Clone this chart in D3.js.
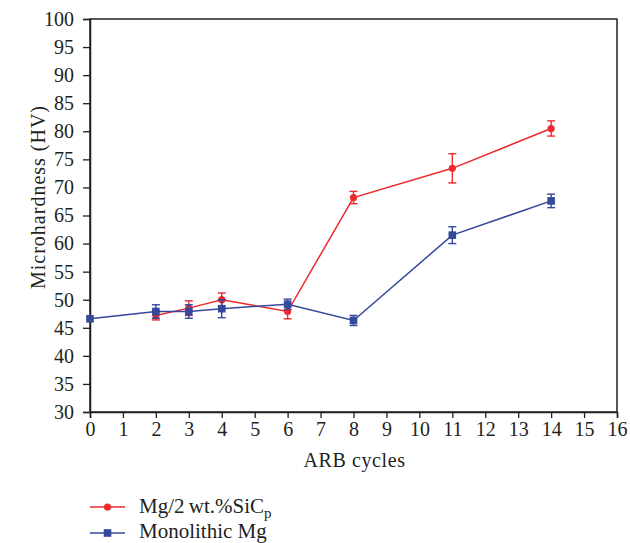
<!DOCTYPE html>
<html>
<head>
<meta charset="utf-8">
<script src="https://cdn.jsdelivr.net/npm/d3@7/dist/d3.min.js"></script>
<style>
  html, body { margin: 0; padding: 0; background: #fff; }
  svg text { font-family: "Liberation Serif", "DejaVu Serif", serif; fill: #231f20; }
</style>
</head>
<body>
<svg id="chart" width="630" height="543"></svg>
<script>
// ARB cycle counts and microhardness readings (HV) with their error half-widths
const sicCycles = [2, 3, 4, 6, 8, 11, 14];
const sicHardness = [47.2, 48.5, 50.0, 47.9, 68.2, 73.4, 80.5];
const sicError = [0.8, 1.3, 1.2, 1.3, 1.1, 2.6, 1.35];

const monoCycles = [0, 2, 3, 4, 6, 8, 11, 14];
const monoHardness = [46.6, 47.9, 47.9, 48.4, 49.2, 46.3, 61.5, 67.6];
const monoError = [0, 1.2, 1.2, 1.6, 0.9, 0.9, 1.5, 1.2];

const xTicks = d3.range(0, 17, 1);
const yTicks = d3.range(30, 101, 5);

const svg = d3.select("#chart");
const margin = { left: 90, right: 13, top: 19, bottom: 131 };
const W = 630, H = 543;
const serif = "Liberation Serif, DejaVu Serif, serif";

const x = d3.scaleLinear().domain([0, 16]).range([margin.left, W - margin.right]);
const y = d3.scaleLinear().domain([30, 100]).range([H - margin.bottom, margin.top]);

const axisColor = "#231f20";

// frame
svg.append("rect")
  .attr("x", x(0)).attr("y", y(100))
  .attr("width", x(16) - x(0)).attr("height", y(30) - y(100))
  .attr("fill", "none").attr("stroke", axisColor).attr("stroke-width", 1.5);

// y axis
const yAxis = svg.append("g")
  .attr("transform", `translate(${x(0)},0)`)
  .call(d3.axisLeft(y).tickValues(yTicks).tickSize(7).tickPadding(9).tickFormat(d3.format("d")));
// x axis
const xAxis = svg.append("g")
  .attr("transform", `translate(0,${y(30)})`)
  .call(d3.axisBottom(x).tickValues(xTicks).tickSize(6).tickPadding(4).tickFormat(d3.format("d")));

[yAxis, xAxis].forEach(g => {
  g.attr("font-family", serif).attr("font-size", 20);
  g.select(".domain").attr("stroke", axisColor).attr("stroke-width", 1.5);
  g.selectAll(".tick line").attr("stroke", axisColor).attr("stroke-width", 1.3);
  g.selectAll(".tick text").attr("font-size", 20).attr("fill", axisColor)
    .attr("font-family", serif);
});

// axis titles
svg.append("text")
  .attr("x", (x(0) + x(16)) / 2 + 1).attr("y", 467)
  .attr("text-anchor", "middle").attr("font-size", 20).attr("letter-spacing", 0.6)
  .text("ARB cycles");
svg.append("text")
  .attr("transform", `translate(45,197) rotate(-90)`)
  .attr("text-anchor", "middle").attr("font-size", 20).attr("letter-spacing", 1)
  .text("Microhardness (HV)");

const red = "#ec2a2d";
const blue = "#34489c";

function drawSeries(cycles, vals, errs, color, marker) {
  const pts = cycles.map((c, i) => ({ c, v: vals[i], e: errs[i] }));
  const g = svg.append("g");
  g.append("path")
    .datum(pts)
    .attr("fill", "none").attr("stroke", color).attr("stroke-width", 1.5)
    .attr("d", d3.line().x(d => x(d.c)).y(d => y(d.v)));
  const eb = g.selectAll(".err").data(pts.filter(d => d.e > 0)).join("g")
    .attr("stroke", color).attr("stroke-width", 1.4);
  eb.append("line")
    .attr("x1", d => x(d.c)).attr("x2", d => x(d.c))
    .attr("y1", d => y(d.v + d.e)).attr("y2", d => y(d.v - d.e));
  eb.append("line")
    .attr("x1", d => x(d.c) - 4).attr("x2", d => x(d.c) + 4)
    .attr("y1", d => y(d.v + d.e)).attr("y2", d => y(d.v + d.e));
  eb.append("line")
    .attr("x1", d => x(d.c) - 4).attr("x2", d => x(d.c) + 4)
    .attr("y1", d => y(d.v - d.e)).attr("y2", d => y(d.v - d.e));
  if (marker === "circle") {
    g.selectAll("circle").data(pts).join("circle")
      .attr("cx", d => x(d.c)).attr("cy", d => y(d.v)).attr("r", 3.6).attr("fill", color);
  } else {
    g.selectAll("rect.m").data(pts).join("rect")
      .attr("class", "m")
      .attr("x", d => x(d.c) - 3.8).attr("y", d => y(d.v) - 3.8)
      .attr("width", 7.6).attr("height", 7.6).attr("fill", color);
  }
}

drawSeries(sicCycles, sicHardness, sicError, red, "circle");
drawSeries(monoCycles, monoHardness, monoError, blue, "square");

// legend
const leg = svg.append("g");
leg.append("line").attr("x1", 90).attr("x2", 125).attr("y1", 507).attr("y2", 507)
  .attr("stroke", red).attr("stroke-width", 1.5);
leg.append("circle").attr("cx", 107.5).attr("cy", 507).attr("r", 3.6).attr("fill", red);
const t1 = leg.append("text").attr("x", 139).attr("y", 513).attr("font-size", 21);
t1.append("tspan").text("Mg/2\u2009wt.%SiC");
t1.append("tspan").attr("dy", 5).attr("font-size", 15).text("p");

leg.append("line").attr("x1", 90).attr("x2", 125).attr("y1", 533).attr("y2", 533)
  .attr("stroke", blue).attr("stroke-width", 1.5);
leg.append("rect").attr("x", 107.5 - 3.8).attr("y", 533 - 3.8).attr("width", 7.6).attr("height", 7.6).attr("fill", blue);
leg.append("text").attr("x", 139).attr("y", 538).attr("font-size", 21).text("Monolithic Mg");
</script>
</body>
</html>
